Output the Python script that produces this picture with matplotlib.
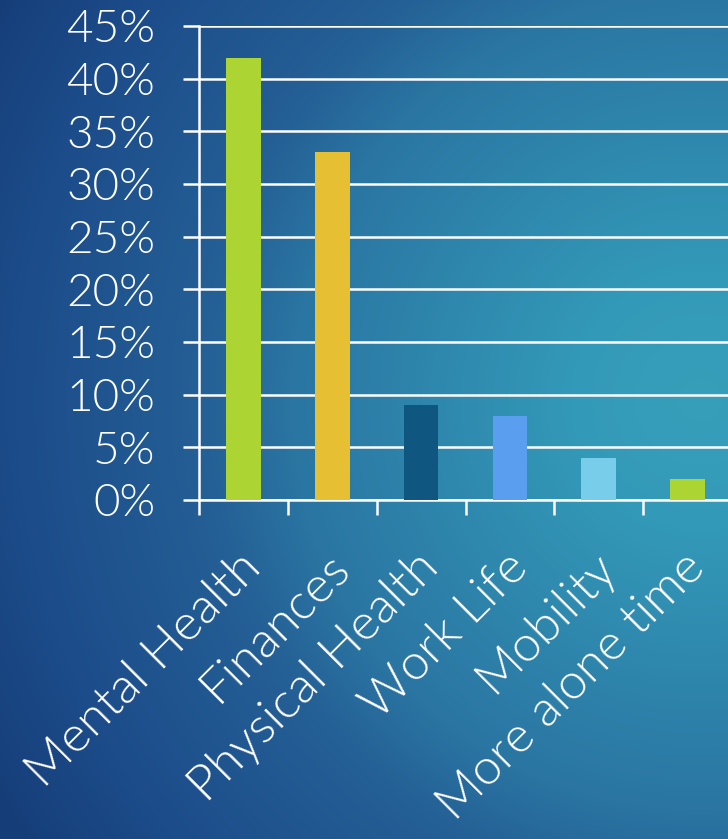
import numpy as np
import matplotlib
matplotlib.use("Agg")
import matplotlib.pyplot as plt
from matplotlib.colors import to_rgb

categories = ["Mental Health", "Finances", "Physical Health", "Work Life", "Mobility", "More alone time"]
shares = [0.42, 0.33, 0.09, 0.08, 0.04, 0.02]
bar_colors = ["#acd433", "#e6bf33", "#0f5780", "#5a9ef0", "#78cdeb", "#acd433"]
y_ticks = [0.0, 0.05, 0.10, 0.15, 0.20, 0.25, 0.30, 0.35, 0.40, 0.45]

W, H = 728, 839
FONT = "Lato"
WEIGHT = 300

fig = plt.figure(figsize=(W / 100, H / 100), dpi=100)

# radial background, teal centre on the right, dark navy toward the edges
bg = fig.add_axes([0, 0, 1, 1], zorder=-5)
yy, xx = np.mgrid[0:H, 0:W]
dist = np.hypot(xx - 700, yy - 400)
stops_d = [0, 130, 410, 500, 685, 800, 900]
stops_c = ["#379fba", "#3399b8", "#2a75a2", "#245f95", "#1c4c8a", "#163f7a", "#143a72"]
rgb = np.array([to_rgb(c) for c in stops_c])
img = np.dstack([np.interp(dist, stops_d, rgb[:, k]) for k in range(3)])
bg.imshow(img, aspect="auto", extent=[0, W, H, 0])
bg.set_axis_off()

# plot area in pixels: y axis at x=199, 0% at y=500, 45% at y=26
left, right, bottom, top = 199, 732, 500, 26
ax = fig.add_axes([left / W, 1 - bottom / H, (right - left) / W, (bottom - top) / H])
ax.patch.set_alpha(0)

x = np.arange(len(categories)) + 0.5
ax.bar(x, shares, width=0.39, color=bar_colors, zorder=3)

ax.set_xlim(0, len(categories))
ax.set_ylim(0, 0.45)
ax.set_yticks(y_ticks)
ax.set_yticklabels([f"{v * 100:.0f}%" for v in y_ticks])
ax.set_xticks(np.arange(len(categories) + 1))
ax.set_xticklabels([])
ax.grid(axis="y", color="white", linewidth=1.8, zorder=1)

for side in ["top", "right"]:
    ax.spines[side].set_visible(False)
for side in ["left", "bottom"]:
    ax.spines[side].set_color("white")
    ax.spines[side].set_linewidth(1.8)

ax.tick_params(axis="y", length=11.5, width=1.8, color="white", pad=20,
               labelcolor="white", labelsize=33)
ax.tick_params(axis="x", length=11, width=1.8, color="white")
for lab in ax.get_yticklabels():
    lab.set_fontfamily(FONT)
    lab.set_fontweight(WEIGHT)

# rotated category labels, right end just past each category centre
for i, name in enumerate(categories):
    px = left + (i + 0.5) * (right - left) / len(categories) + 20
    py = 570
    fig.text(px / W, 1 - py / H, name, rotation=45, rotation_mode="anchor",
             ha="right", va="baseline", color="white", fontsize=36,
             family=FONT, weight=WEIGHT)

fig.savefig("out.png", dpi=100)
